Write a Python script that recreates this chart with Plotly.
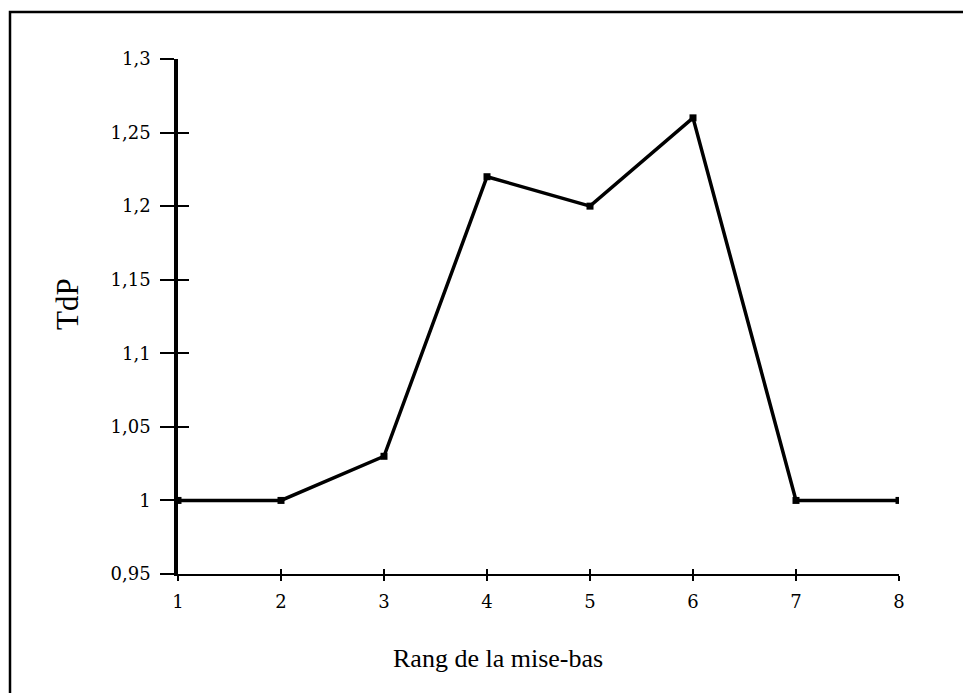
import plotly.graph_objects as go

rang = [1, 2, 3, 4, 5, 6, 7, 8]
tdp = [1.0, 1.0, 1.03, 1.22, 1.20, 1.26, 1.0, 1.0]

y_tickvals = [0.95, 1.0, 1.05, 1.1, 1.15, 1.2, 1.25, 1.3]
y_ticktext = ["0,95", "1", "1,05", "1,1", "1,15", "1,2", "1,25", "1,3"]
x_tickvals = [1, 2, 3, 4, 5, 6, 7, 8]
x_ticktext = ["1", "2", "3", "4", "5", "6", "7", "8"]

OFF = 8  # default page body margin
W, H = 971 - OFF, 693 - OFF
# plot area in page pixels: x 178..899, y 59..574
L, R, T, B = 178 - OFF, 971 - 899, 59 - OFF, 693 - 574
pw, ph = W - L - R, H - T - B

def px_x(p):  # page pixel -> paper
    return (p - OFF - L) / pw

def px_y(p):
    return (574 - p) / ph

tick_font = dict(family="DejaVu Serif", size=18, color="black")

fig = go.Figure()
fig.add_trace(go.Scatter(
    x=rang, y=tdp, mode="lines+markers",
    line=dict(color="black", width=3.5),
    marker=dict(symbol="square", size=7, color="black"),
    showlegend=False, hoverinfo="x+y",
))
# helper traces so overlay axes (inner tick halves) are drawn
fig.add_trace(go.Scatter(x=rang, y=tdp, xaxis="x", yaxis="y2", mode="lines",
                         line=dict(color="rgba(0,0,0,0)", width=0),
                         showlegend=False, hoverinfo="skip"))
fig.add_trace(go.Scatter(x=rang, y=tdp, xaxis="x2", yaxis="y", mode="lines",
                         line=dict(color="rgba(0,0,0,0)", width=0),
                         showlegend=False, hoverinfo="skip"))

fig.update_layout(
    width=W, height=H,
    margin=dict(l=L, r=R, t=T, b=B),
    paper_bgcolor="white", plot_bgcolor="white",
    xaxis=dict(range=[1, 8], tickvals=x_tickvals, ticktext=x_ticktext,
               showgrid=False, zeroline=False, showline=True,
               linecolor="black", linewidth=2, ticks="outside",
               ticklen=5, tickwidth=2, tickcolor="black",
               ticklabelstandoff=5, tickfont=tick_font),
    yaxis=dict(range=[0.95, 1.3], tickvals=y_tickvals, ticktext=y_ticktext,
               showgrid=False, zeroline=False, showline=True,
               linecolor="black", linewidth=3.5, ticks="outside",
               ticklen=14, tickwidth=2, tickcolor="black",
               ticklabelstandoff=6, tickfont=tick_font),
    xaxis2=dict(range=[1, 8], overlaying="x", tickvals=x_tickvals,
                showticklabels=False, showgrid=False, zeroline=False,
                ticks="inside", ticklen=5, tickwidth=2, tickcolor="black",
                anchor="y", side="bottom"),
    yaxis2=dict(range=[0.95, 1.3], overlaying="y", tickvals=y_tickvals,
                showticklabels=False, showgrid=False, zeroline=False,
                ticks="inside", ticklen=11, tickwidth=2, tickcolor="black",
                anchor="x", side="left"),
    annotations=[
        dict(text="Rang de la mise-bas", x=px_x(498), y=px_y(658),
             xref="paper", yref="paper", showarrow=False,
             xanchor="center", yanchor="middle",
             font=dict(family="Liberation Serif", size=26, color="black")),
        dict(text="TdP", x=px_x(67), y=px_y(304), textangle=-90,
             xref="paper", yref="paper", showarrow=False,
             xanchor="center", yanchor="middle",
             font=dict(family="Liberation Serif", size=31, color="black")),
    ],
    shapes=[
        dict(type="rect", xref="paper", yref="paper",
             x0=px_x(10), x1=px_x(966), y0=px_y(720), y1=px_y(12),
             line=dict(color="black", width=2.5), layer="below"),
    ],
)

fig.write_html("out.html")
